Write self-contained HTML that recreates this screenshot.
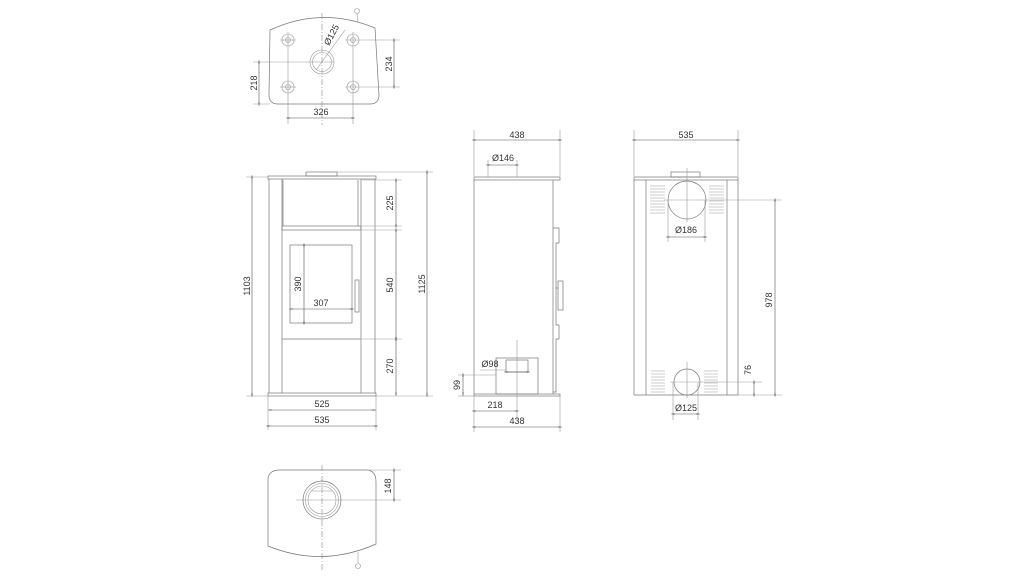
<!DOCTYPE html>
<html><head><meta charset="utf-8"><style>
html,body{margin:0;padding:0;background:#fff;}
svg{display:block}
text{font-family:"Liberation Sans",sans-serif;font-size:9px;fill:#333;}
.l{stroke:#777;stroke-width:0.7;fill:none}
.t{stroke:#999;stroke-width:0.6;fill:none}
.s{stroke:#999;stroke-width:0.5;fill:none}
.d{stroke:#555;stroke-width:0.6;fill:none;marker-start:url(#a);marker-end:url(#a)}
.c{stroke:#888;stroke-width:0.6;fill:none;stroke-dasharray:6 2 1 2}
</style></head><body>
<svg width="1024" height="576" viewBox="0 0 1024 576">
<defs><marker id="a" viewBox="0 0 10 10" refX="5" refY="5" markerWidth="5" markerHeight="5" orient="auto"><path d="M0,3 L5,5 L0,7 M10,3 L5,5 L10,7" stroke="#333" fill="none" stroke-width="1.2"/></marker></defs>

<!-- TOP PLAN -->
<path class="l" d="M270,30 Q322,6 375,28 L379,95 Q379,104 370,104 L278,104 Q269,104 269,95 Z"/>
<line class="t" x1="357" y1="14" x2="358" y2="22"/><circle class="t" cx="357" cy="11" r="2.5"/>
<line class="c" x1="322" y1="13" x2="322" y2="125"/>
<g class="t">
<circle cx="288" cy="40" r="6"/><circle cx="288" cy="40" r="2.5"/>
<circle cx="353" cy="40" r="6"/><circle cx="353" cy="40" r="2.5"/>
<circle cx="288" cy="87" r="6"/><circle cx="288" cy="87" r="2.5"/>
<circle cx="353" cy="87" r="6"/><circle cx="353" cy="87" r="2.5"/>
<line x1="280" y1="40" x2="296" y2="40"/><line x1="345" y1="40" x2="400" y2="40"/>
<line x1="280" y1="87" x2="296" y2="87"/><line x1="345" y1="87" x2="400" y2="87"/>
<line x1="288" y1="32" x2="288" y2="124"/><line x1="353" y1="32" x2="353" y2="124"/>
<circle cx="322" cy="62" r="12"/><circle cx="322" cy="62" r="9.5"/>
<line x1="253" y1="62" x2="334" y2="62"/><line x1="253" y1="104" x2="270" y2="104"/>
<line x1="316" y1="70" x2="345" y2="30"/>
</g>
<line class="d" x1="259" y1="62" x2="259" y2="104"/>
<text transform="translate(257,83) rotate(-90)" text-anchor="middle">218</text>
<line class="d" x1="394" y1="40" x2="394" y2="87"/>
<text transform="translate(392,64) rotate(-90)" text-anchor="middle">234</text>
<line class="d" x1="288" y1="118" x2="353" y2="118"/>
<text x="321" y="115" text-anchor="middle">326</text>
<text transform="translate(329,46) rotate(-62)">Ø125</text>

<!-- FRONT VIEW -->
<g class="l">
<rect x="306" y="172" width="31" height="4"/>
<rect x="268" y="176" width="108" height="3"/>
<line x1="269" y1="179" x2="269" y2="393"/><line x1="375" y1="179" x2="375" y2="393"/>
<line x1="282" y1="179" x2="282" y2="393"/><line x1="361" y1="179" x2="361" y2="393"/>
<line x1="283" y1="180" x2="283" y2="226"/><line x1="358" y1="180" x2="358" y2="226"/>
<rect x="282" y="226" width="79" height="4"/>
<rect x="290" y="245" width="62" height="78"/>
<rect x="355" y="280" width="4" height="32"/>
<line x1="282" y1="339" x2="361" y2="339"/>
<rect x="268" y="393" width="108" height="3"/>
</g>
<g class="t">
<line x1="246" y1="177" x2="268" y2="177"/><line x1="246" y1="396" x2="268" y2="396"/>
<line x1="320" y1="172" x2="433" y2="172"/><line x1="376" y1="396" x2="433" y2="396"/>
<line x1="362" y1="180" x2="402" y2="180"/><line x1="362" y1="226" x2="402" y2="226"/>
<line x1="362" y1="230" x2="402" y2="230"/><line x1="362" y1="339" x2="402" y2="339"/>
<line x1="268" y1="396" x2="268" y2="430"/><line x1="376" y1="396" x2="376" y2="430"/>
</g>
<line class="d" x1="252" y1="177" x2="252" y2="395"/><text transform="translate(250,286) rotate(-90)" text-anchor="middle">1103</text>
<line class="d" x1="427" y1="172" x2="427" y2="395"/><text transform="translate(425,284) rotate(-90)" text-anchor="middle">1125</text>
<line class="d" x1="396" y1="180" x2="396" y2="226"/><text transform="translate(393,203) rotate(-90)" text-anchor="middle">225</text>
<line class="d" x1="396" y1="230" x2="396" y2="339"/><text transform="translate(393,285) rotate(-90)" text-anchor="middle">540</text>
<line class="d" x1="396" y1="339" x2="396" y2="394"/><text transform="translate(393,366) rotate(-90)" text-anchor="middle">270</text>
<line class="d" x1="304" y1="245" x2="304" y2="323"/><text transform="translate(301,284) rotate(-90)" text-anchor="middle">390</text>
<line class="d" x1="291" y1="309" x2="352" y2="309"/><text x="321" y="306" text-anchor="middle">307</text>
<line class="d" x1="270" y1="410" x2="374" y2="410"/><text x="322" y="407" text-anchor="middle">525</text>
<line class="d" x1="268" y1="426" x2="376" y2="426"/><text x="322" y="423" text-anchor="middle">535</text>

<!-- SIDE VIEW -->
<g class="l">
<rect x="474" y="177" width="86" height="3"/>
<line x1="474" y1="180" x2="474" y2="394"/><line x1="553" y1="180" x2="553" y2="394"/>
<path d="M553,228 L559,228 L559,243 L556,243 L556,325 L559,325 L559,339 L556,339 L556,392 L553,392"/>
<rect x="558" y="281" width="5" height="29"/><line x1="556" y1="288" x2="558" y2="288"/>
<rect x="474" y="394" width="86" height="2"/>
<rect x="496" y="358" width="42" height="36"/>
<rect x="506" y="360" width="22" height="12"/>
</g>
<g class="t">
<line x1="474" y1="130" x2="474" y2="176"/><line x1="560" y1="130" x2="560" y2="176"/>
<line x1="488" y1="160" x2="488" y2="177"/><line x1="517" y1="160" x2="517" y2="177"/>
<line x1="517" y1="340" x2="517" y2="420"/>
<line x1="458" y1="375" x2="496" y2="375"/><line x1="458" y1="396" x2="474" y2="396"/>
<line x1="474" y1="396" x2="474" y2="432"/><line x1="560" y1="396" x2="560" y2="432"/>
<line x1="480" y1="370" x2="506" y2="370"/>
</g>
<line class="d" x1="474" y1="140" x2="560" y2="140"/><text x="517" y="138" text-anchor="middle">438</text>
<line class="d" x1="488" y1="165" x2="517" y2="165"/><text x="503" y="161" text-anchor="middle">Ø146</text>
<line class="d" x1="506" y1="372" x2="528" y2="372"/><text x="490" y="367" text-anchor="middle">Ø98</text>
<line class="d" x1="463" y1="375" x2="463" y2="394"/><text transform="translate(460,385) rotate(-90)" text-anchor="middle">99</text>
<line class="d" x1="474" y1="411" x2="517" y2="411"/><text x="495" y="408" text-anchor="middle">218</text>
<line class="d" x1="474" y1="427" x2="560" y2="427"/><text x="517" y="424" text-anchor="middle">438</text>

<!-- BACK VIEW -->
<g class="l">
<rect x="671" y="172" width="29" height="5"/>
<rect x="634" y="177" width="104" height="3"/>
<line x1="634" y1="180" x2="634" y2="395"/><line x1="738" y1="180" x2="738" y2="395"/>
<line x1="646" y1="180" x2="646" y2="395"/><line x1="727" y1="180" x2="727" y2="395"/>
<line x1="634" y1="395" x2="738" y2="395"/>
<circle cx="687" cy="200" r="19"/><circle cx="687" cy="382" r="13"/>
</g>
<g class="s">
<path d="M650,186h15M650,189h15M650,192h15M650,195h15M650,198h15M650,201h15M650,204h15M650,207h15M650,210h15M650,213h15"/>
<path d="M709,186h15M709,189h15M709,192h15M709,195h15M709,198h15M709,201h15M709,204h15M709,207h15M709,210h15M709,213h15"/>
<path d="M651,371h14M651,374h14M651,377h14M651,380h14M651,383h14M651,386h14M651,389h14M651,392h14"/>
<path d="M704,371h14M704,374h14M704,377h14M704,380h14M704,383h14M704,386h14M704,389h14M704,392h14"/>
</g>
<g class="t">
<line x1="634" y1="130" x2="634" y2="176"/><line x1="738" y1="130" x2="738" y2="176"/>
<line x1="687" y1="168" x2="687" y2="222"/><line x1="664" y1="200" x2="782" y2="200"/>
<line x1="668" y1="200" x2="668" y2="242"/><line x1="705" y1="200" x2="705" y2="242"/>
<line x1="687" y1="362" x2="687" y2="398"/><line x1="670" y1="382" x2="762" y2="382"/>
<line x1="738" y1="395" x2="782" y2="395"/>
<line x1="673" y1="382" x2="673" y2="420"/><line x1="698" y1="382" x2="698" y2="420"/>
</g>
<line class="d" x1="634" y1="140" x2="738" y2="140"/><text x="686" y="138" text-anchor="middle">535</text>
<line class="d" x1="668" y1="237" x2="705" y2="237"/><text x="686" y="233" text-anchor="middle">Ø186</text>
<line class="d" x1="775" y1="200" x2="775" y2="395"/><text transform="translate(772,300) rotate(-90)" text-anchor="middle">978</text>
<line class="d" x1="754" y1="382" x2="754" y2="395"/><text transform="translate(751,370) rotate(-90)" text-anchor="middle">76</text>
<line class="d" x1="673" y1="414" x2="698" y2="414"/><text x="686" y="411" text-anchor="middle">Ø125</text>

<!-- BOTTOM VIEW -->
<path class="l" d="M268,480 Q268,470 280,470 L366,470 Q376,470 376,482 L376,544 Q322,568 268,546 Z"/>
<line class="c" x1="322" y1="465" x2="322" y2="570"/>
<line class="t" x1="296" y1="500" x2="401" y2="500"/><line class="t" x1="366" y1="470" x2="401" y2="470"/>
<circle class="l" cx="322" cy="500" r="19"/><circle class="t" cx="322" cy="500" r="16.5"/><circle class="t" cx="322" cy="500" r="14"/>
<line class="t" x1="312" y1="491" x2="332" y2="491"/>
<line class="t" x1="358" y1="552" x2="358" y2="563"/><circle class="t" cx="358" cy="566" r="2.5"/>
<line class="d" x1="394" y1="470" x2="394" y2="500"/><text transform="translate(391,486) rotate(-90)" text-anchor="middle">148</text>
</svg>
</body></html>
